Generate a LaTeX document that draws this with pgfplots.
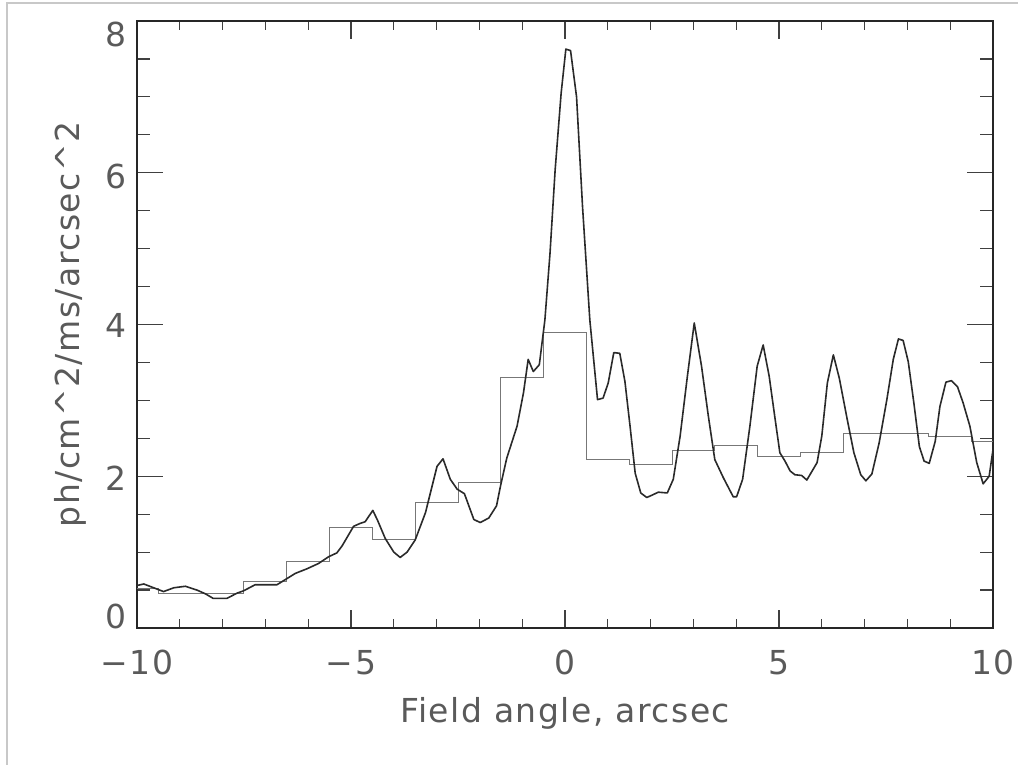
\documentclass[border=0pt]{standalone}
\usepackage{fontspec}
\setmainfont[LetterSpace=4.5]{DejaVu Sans}
\usepackage{pgfplots}
\pgfplotsset{compat=1.18}
\definecolor{txt}{HTML}{5A5A5A}
\definecolor{crv}{HTML}{2A2A2A}
\definecolor{hst}{HTML}{777777}
\definecolor{frm}{HTML}{C8C8C8}
\newcommand{\yl}[2]{\smash{\raisebox{#1}{#2}}}
\begin{document}
\begin{tikzpicture}
\useasboundingbox (-68.5pt,-68.5pt) rectangle (440.5pt,314pt);
\draw[frm, line width=0.6pt] (-65pt,-68.5pt) -- (-65pt,312.5pt) -- (440.5pt,312.5pt);
\begin{axis}[
  at={(0,0)}, anchor=south west,
  scale only axis, width=428pt, height=303.5pt,
  xmin=-10, xmax=10, ymin=0, ymax=8,
  xtick={-10,-5,0,5,10},
  xticklabels={−10,−5,0,5,10},
  ytick={0,2,4,6,8},
  yticklabels={\yl{-0.2pt}{0},\yl{-7pt}{2},\yl{-6.5pt}{4},\yl{-8pt}{6},\yl{-12.5pt}{8}},
  minor x tick num=4, minor y tick num=3,
  tick align=inside,
  major tick length=13pt, minor tick length=6.5pt,
  xtick style={/pgfplots/major tick length=9pt, /pgfplots/minor tick length=4.5pt},
  tick style={black!75, line width=0.6pt},
  axis line style={black!85, line width=0.75pt},
  /pgf/number format/assume math mode=true,
  ticklabel style={font=\fontsize{16.5}{19}\selectfont, text=txt},
  xticklabel style={yshift=-7.5pt},
  yticklabel style={xshift=-1.5pt},
  label style={font=\fontsize{16.5}{19}\selectfont, text=txt},
  xlabel={Field angle, arcsec},
  ylabel={ph/cm\textasciicircum 2/ms/arcsec\textasciicircum 2},
  xlabel style={at={(axis description cs:0.5,-0.155)}, anchor=base},
  ylabel style={at={(axis description cs:-0.078,0.5)}, anchor=center},
  clip=false,
]
% binned profile
\addplot[const plot, hst, line width=0.5pt] coordinates {
(-10,0.52) (-9.5,0.46) (-8.5,0.46) (-7.5,0.61) (-6.5,0.87) (-5.5,1.33)
(-4.5,1.17) (-3.5,1.66) (-2.5,1.92) (-1.5,3.30) (-0.5,3.90) (0.5,2.22)
(1.5,2.15) (2.5,2.34) (3.5,2.41) (4.5,2.26) (5.5,2.31) (6.5,2.56)
(7.5,2.57) (8.5,2.53) (9.5,2.46) (10,2.46)
};
% fine profile
\addplot[crv, line width=0.8pt, line join=round] coordinates {
(-10,0.56) (-9.84,0.58) (-9.38,0.48) (-9.14,0.53) (-8.87,0.55) (-8.60,0.50)
(-8.40,0.45) (-8.22,0.39) (-7.90,0.39) (-7.66,0.46) (-7.51,0.49) (-7.24,0.57)
(-6.73,0.57) (-6.50,0.65) (-6.30,0.72) (-6.03,0.78) (-5.76,0.85) (-5.52,0.94)
(-5.33,0.99) (-5.21,1.08) (-4.94,1.34) (-4.78,1.38) (-4.67,1.40) (-4.49,1.55)
(-4.38,1.42) (-4.20,1.18) (-4.00,1.00) (-3.85,0.93) (-3.69,1.00) (-3.50,1.16)
(-3.26,1.52) (-2.99,2.13) (-2.85,2.23) (-2.68,1.96) (-2.52,1.83) (-2.35,1.77)
(-2.13,1.43) (-1.98,1.39) (-1.78,1.45) (-1.60,1.61) (-1.50,1.89) (-1.36,2.24)
(-1.12,2.66) (-0.97,3.10) (-0.86,3.54) (-0.74,3.38) (-0.60,3.47) (-0.47,4.06)
(-0.35,4.94) (-0.23,6.04) (-0.09,7.05) (0.02,7.63) (0.13,7.61) (0.27,7.00)
(0.41,5.55) (0.58,4.06) (0.76,3.01) (0.89,3.03) (1.01,3.23) (1.14,3.63)
(1.28,3.62) (1.40,3.25) (1.52,2.66) (1.64,2.04) (1.77,1.78) (1.91,1.72)
(2.03,1.75) (2.18,1.79) (2.39,1.78) (2.53,1.96) (2.69,2.53) (2.86,3.32)
(3.02,4.02) (3.19,3.45) (3.35,2.79) (3.50,2.22) (3.70,1.98) (3.93,1.73)
(4.01,1.73) (4.15,1.96) (4.32,2.66) (4.49,3.45) (4.63,3.73) (4.77,3.32)
(4.91,2.75) (5.02,2.31) (5.14,2.20) (5.26,2.07) (5.37,2.02) (5.53,2.01)
(5.65,1.95) (5.89,2.18) (6.00,2.53) (6.13,3.23) (6.27,3.60) (6.41,3.29)
(6.58,2.79) (6.75,2.31) (6.91,2.02) (7.03,1.94) (7.17,2.03) (7.34,2.44)
(7.52,3.01) (7.67,3.54) (7.79,3.81) (7.90,3.79) (8.02,3.51) (8.15,2.97)
(8.28,2.39) (8.39,2.20) (8.51,2.17) (8.65,2.46) (8.76,2.92) (8.90,3.24)
(9.03,3.26) (9.17,3.18) (9.30,2.97) (9.46,2.66) (9.62,2.18) (9.77,1.90)
(9.91,2.00) (10,2.35)
};
\end{axis}
\end{tikzpicture}
\end{document}
